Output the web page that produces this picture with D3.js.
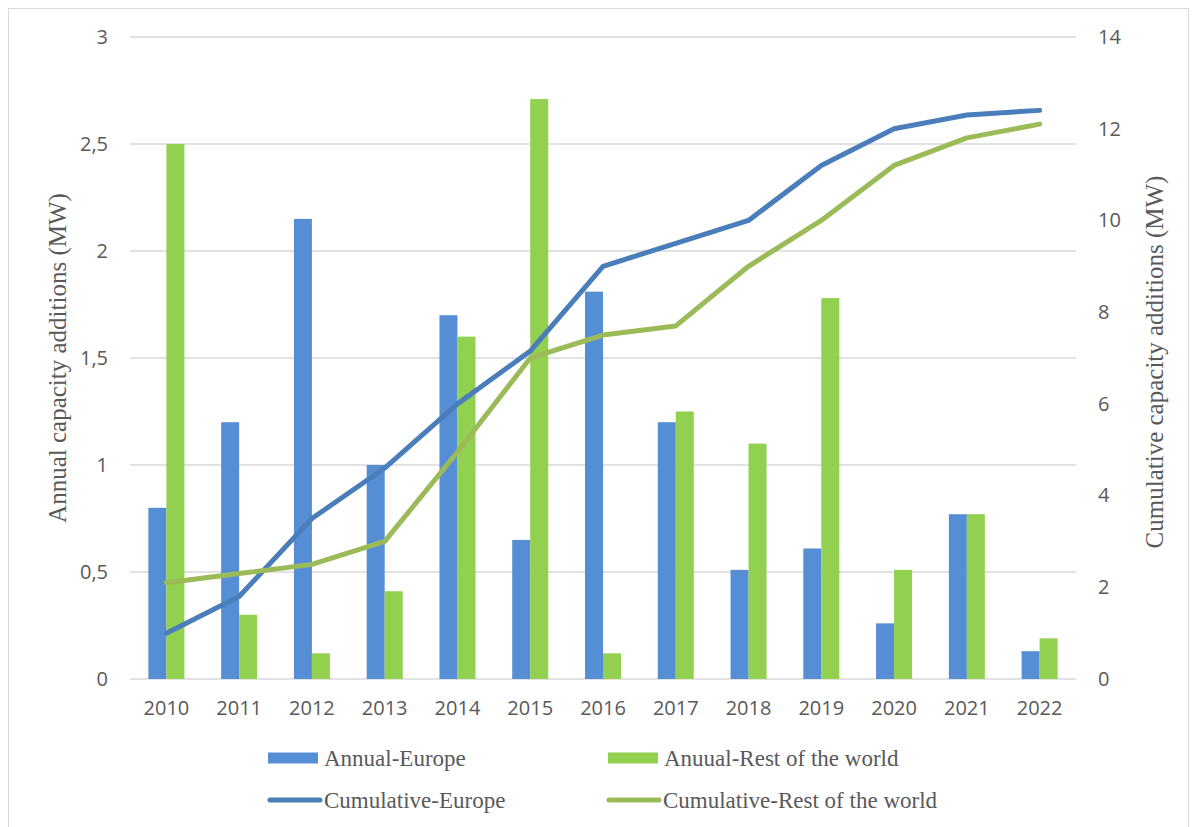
<!DOCTYPE html>
<html>
<head>
<meta charset="utf-8">
<script src="https://cdn.jsdelivr.net/npm/d3@7"></script>
<style>
  body { margin: 0; background: #fff; }
  .tick text { font-family: "Open Sans", "Liberation Sans", sans-serif; font-size: 20px; fill: #595959; }
  .serif { font-family: "Liberation Serif", "DejaVu Serif", serif; fill: #595959; }
</style>
</head>
<body>
<div id="chart"></div>
<script>
// Data
const years = ["2010", "2011", "2012", "2013", "2014", "2015", "2016", "2017", "2018", "2019", "2020", "2021", "2022"];
const annualEurope = [0.8, 1.2, 2.15, 1.0, 1.7, 0.65, 1.81, 1.2, 0.51, 0.61, 0.26, 0.77, 0.13];
const annualRest = [2.5, 0.3, 0.12, 0.41, 1.6, 2.71, 0.12, 1.25, 1.1, 1.78, 0.51, 0.77, 0.19];
const cumulativeEurope = [1.0, 1.8, 3.5, 4.6, 6.0, 7.15, 9.0, 9.5, 10.0, 11.2, 12.0, 12.3, 12.4];
const cumulativeRest = [2.1, 2.3, 2.5, 3.0, 4.95, 7.0, 7.5, 7.7, 9.0, 10.0, 11.2, 11.8, 12.1];
const leftTicks = [0, 0.5, 1, 1.5, 2, 2.5, 3];
const rightTicks = [0, 2, 4, 6, 8, 10, 12, 14];

const W = 1196, H = 827;
const margin = { top: 37, right: 120, bottom: 148, left: 130 };
const width = W - margin.left - margin.right;
const height = H - margin.top - margin.bottom;

const colors = {
    barEurope: "#558ed5",
    barRest: "#92d050",
    lineEurope: "#4a7ebb",
    lineRest: "#9bbb59"
};

const root = d3.select("#chart")
    .append("svg")
    .attr("width", W)
    .attr("height", H);

// Outer frame
root.append("rect")
    .attr("x", 8.5).attr("y", 8.5)
    .attr("width", 1180).attr("height", 830)
    .attr("fill", "none")
    .attr("stroke", "#d9d9d9");

const svg = root.append("g")
    .attr("transform", `translate(${margin.left},${margin.top})`);

// Scales
const x = d3.scaleBand().domain(years).range([0, width]);
const xs = d3.scaleBand().domain(["eu", "rest"]).range([x.bandwidth() / 2 - 18, x.bandwidth() / 2 + 18]);
const yL = d3.scaleLinear().domain([0, 3]).range([height, 0]);
const yR = d3.scaleLinear().domain([0, 14]).range([height, 0]);

// Gridlines
svg.append("g")
    .selectAll("line")
    .data(leftTicks)
    .enter()
    .append("line")
    .attr("x1", 0).attr("x2", width)
    .attr("y1", d => yL(d)).attr("y2", d => yL(d))
    .attr("stroke", "#d9d9d9")
    .attr("stroke-width", 1.3);

// Axes
const fmt = d => String(d).replace(".", ",");
const left = svg.append("g")
    .call(d3.axisLeft(yL).tickValues(leftTicks).tickFormat(fmt).tickSize(0).tickPadding(22));
left.select(".domain").remove();

const right = svg.append("g")
    .attr("transform", `translate(${width},0)`)
    .call(d3.axisRight(yR).tickValues(rightTicks).tickSize(0).tickPadding(22));
right.select(".domain").remove();

const bottom = svg.append("g")
    .attr("transform", `translate(0,${height})`)
    .call(d3.axisBottom(x).tickSize(0).tickPadding(22));
bottom.select(".domain").remove();

// Bars
const groups = svg.selectAll(".year")
    .data(years)
    .enter()
    .append("g")
    .attr("transform", d => `translate(${x(d)},0)`);

groups.append("rect")
    .attr("x", xs("eu"))
    .attr("width", xs.bandwidth())
    .attr("y", (d, i) => yL(annualEurope[i]))
    .attr("height", (d, i) => height - yL(annualEurope[i]))
    .attr("fill", colors.barEurope);

groups.append("rect")
    .attr("x", xs("rest"))
    .attr("width", xs.bandwidth())
    .attr("y", (d, i) => yL(annualRest[i]))
    .attr("height", (d, i) => height - yL(annualRest[i]))
    .attr("fill", colors.barRest);

// Lines
const line = d3.line()
    .x((d, i) => x(years[i]) + x.bandwidth() / 2)
    .y(d => yR(d));

svg.append("path")
    .datum(cumulativeEurope)
    .attr("d", line)
    .attr("fill", "none")
    .attr("stroke", colors.lineEurope)
    .attr("stroke-width", 5)
    .attr("stroke-linecap", "round")
    .attr("stroke-linejoin", "round");

svg.append("path")
    .datum(cumulativeRest)
    .attr("d", line)
    .attr("fill", "none")
    .attr("stroke", colors.lineRest)
    .attr("stroke-width", 5)
    .attr("stroke-linecap", "round")
    .attr("stroke-linejoin", "round");

// Axis titles
root.append("text")
    .attr("class", "serif")
    .style("font-size", "25px")
    .attr("transform", "translate(66,358) rotate(-90)")
    .attr("text-anchor", "middle")
    .text("Annual capacity additions (MW)");

root.append("text")
    .attr("class", "serif")
    .style("font-size", "25px")
    .attr("transform", "translate(1163,362) rotate(-90)")
    .attr("text-anchor", "middle")
    .text("Cumulative capacity additions (MW)");

// Legend
const legend = [
    { name: "Annual-Europe", color: colors.barEurope, type: "bar", x: 268, y: 758 },
    { name: "Anuual-Rest of the world", color: colors.barRest, type: "bar", x: 608, y: 758 },
    { name: "Cumulative-Europe", color: colors.lineEurope, type: "line", x: 268, y: 800 },
    { name: "Cumulative-Rest of the world", color: colors.lineRest, type: "line", x: 607, y: 800 }
];

const items = root.selectAll(".legend")
    .data(legend)
    .enter()
    .append("g")
    .attr("transform", d => `translate(${d.x},${d.y})`);

items.filter(d => d.type === "bar")
    .append("rect")
    .attr("x", 0).attr("y", -5.5)
    .attr("width", 50).attr("height", 11)
    .attr("fill", d => d.color);

items.filter(d => d.type === "line")
    .append("line")
    .attr("x1", 2).attr("x2", 52)
    .attr("stroke", d => d.color)
    .attr("stroke-width", 5)
    .attr("stroke-linecap", "round");

items.append("text")
    .attr("class", "serif")
    .style("font-size", "23px")
    .attr("x", 56)
    .attr("dy", "0.35em")
    .text(d => d.name);
</script>
</body>
</html>
